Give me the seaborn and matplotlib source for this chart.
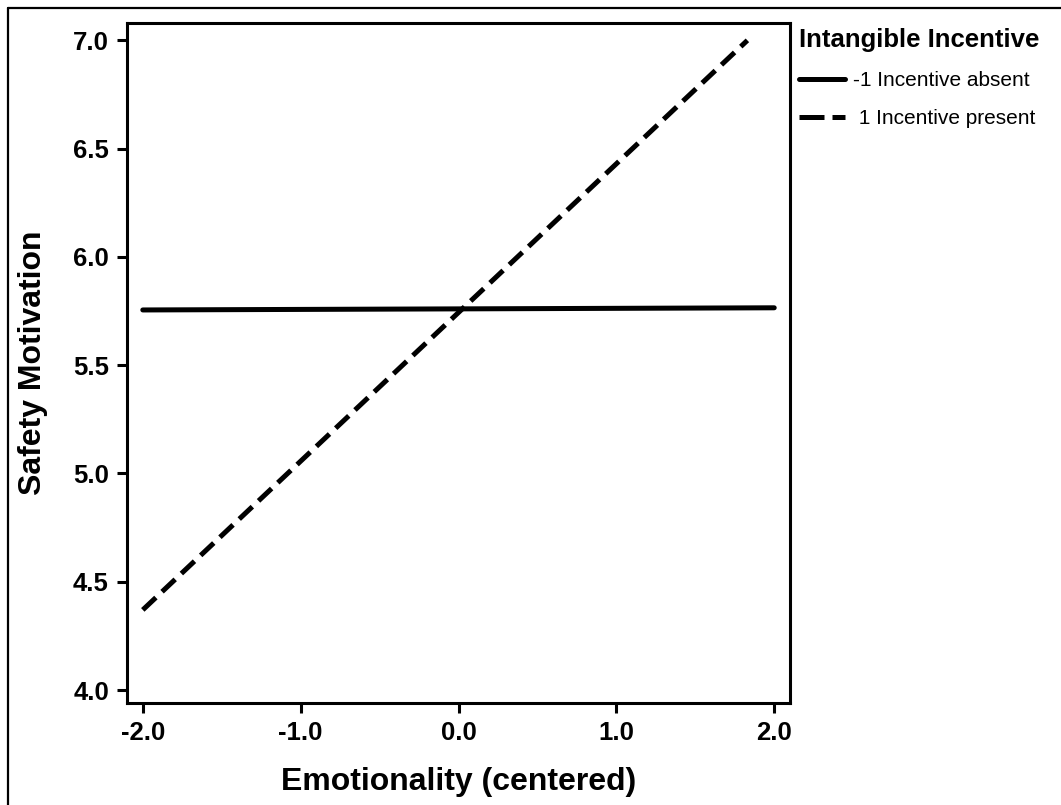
import matplotlib
matplotlib.use('Agg')
import matplotlib.pyplot as plt
import pandas as pd
import seaborn as sns
from matplotlib.lines import Line2D

# values
emotionality = [-2.0, 2.0, -2.0, 1.83]
motivation = [5.755, 5.765, 4.37, 7.0]
groups = ['-1 Incentive absent', '-1 Incentive absent',
          ' 1 Incentive present', ' 1 Incentive present']
x_ticks = [-2.0, -1.0, 0.0, 1.0, 2.0]
y_ticks = [4.0, 4.5, 5.0, 5.5, 6.0, 6.5, 7.0]

df = pd.DataFrame({'Emotionality': emotionality,
                   'Motivation': motivation,
                   'Incentive': groups})

sns.set_style('white')
plt.rcParams['font.family'] = ['Liberation Sans', 'DejaVu Sans']
plt.rcParams['text.color'] = 'black'
plt.rcParams['axes.labelcolor'] = 'black'
plt.rcParams['xtick.color'] = 'black'
plt.rcParams['ytick.color'] = 'black'

fig = plt.figure(figsize=(10.61, 8.05), dpi=100)
ax = fig.add_axes([0.1197, 0.1267, 0.6249, 0.8447])

sns.lineplot(data=df, x='Emotionality', y='Motivation', hue='Incentive',
             style='Incentive', palette=['black', 'black'],
             dashes={'-1 Incentive absent': '',
                     ' 1 Incentive present': (3.6, 1.7)},
             linewidth=3.6, legend=False, ax=ax, estimator=None, sort=False)
for ln in ax.lines:
    ln.set_dash_capstyle('butt')

ax.set_xlim(-2.1, 2.1)
ax.set_ylim(3.94, 7.08)
ax.set_xticks(x_ticks)
ax.set_yticks(y_ticks)
ax.set_xticklabels([f'{v:.1f}' for v in x_ticks])
ax.set_yticklabels([f'{v:.1f}' for v in y_ticks])
ax.tick_params(direction='out', length=7, width=2.2, labelsize=18.5,
               pad=6, bottom=True, left=True, colors='black')
for lab in ax.get_xticklabels() + ax.get_yticklabels():
    lab.set_fontweight('bold')
for sp in ax.spines.values():
    sp.set_linewidth(2.2)
    sp.set_color('black')

ax.set_xlabel('Emotionality (centered)', fontsize=23, fontweight='bold',
              labelpad=16)
ax.set_ylabel('Safety Motivation', fontsize=23, fontweight='bold',
              labelpad=18)

handles = [Line2D([], [], color='black', lw=3.6),
           Line2D([], [], color='black', lw=3.6, ls=(0, (5.0, 1.6)),
                  dash_capstyle='butt')]
leg = fig.legend(handles, ['-1 Incentive absent', ' 1 Incentive present'],
                 title='Intangible Incentive', loc='upper left',
                 bbox_to_anchor=(0.745, 0.975), frameon=False,
                 fontsize=15, handlelength=2.2, handletextpad=0.4,
                 labelspacing=0.9, borderaxespad=0)
leg.get_title().set_fontweight('bold')
leg.get_title().set_fontsize(18.5)
leg._legend_box.align = 'left'

# outer frame (left and top edges visible)
fig.add_artist(Line2D([0.0075, 0.0075], [0, 0.99], color='black', lw=1.6,
                      transform=fig.transFigure))
fig.add_artist(Line2D([0.0075, 1.0], [0.99, 0.99], color='black', lw=1.6,
                      transform=fig.transFigure))

fig.savefig('out.png', dpi=100)
